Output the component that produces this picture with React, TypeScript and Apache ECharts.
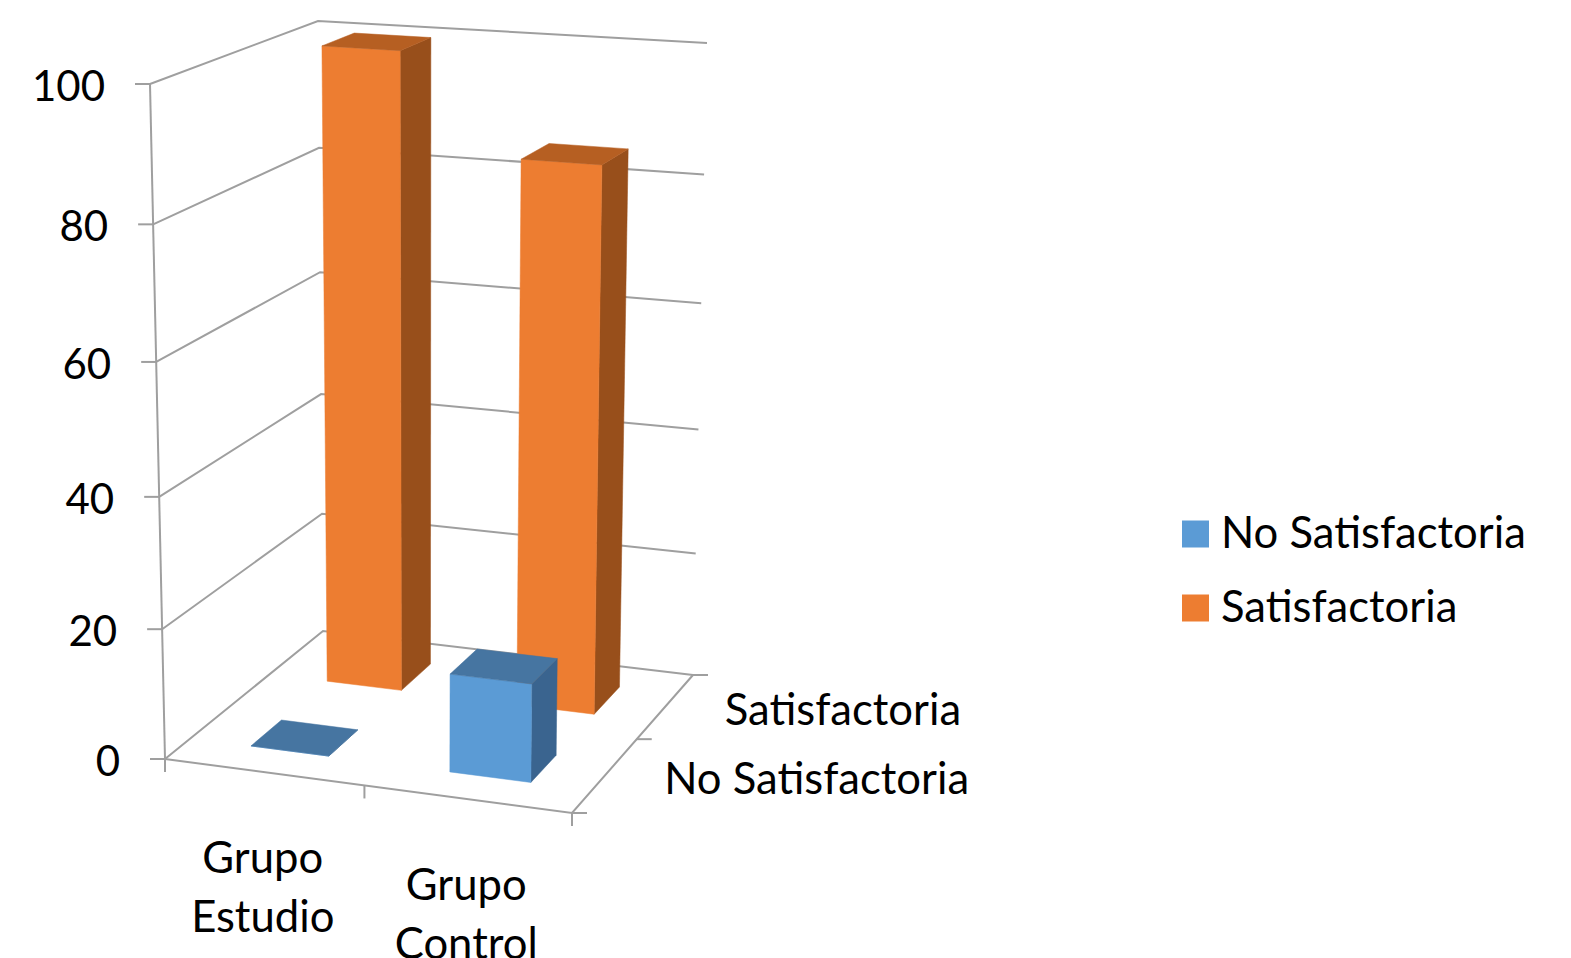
import React, { useEffect, useRef } from "react";
import * as echarts from "echarts";

const categories = ["Grupo\nEstudio", "Grupo\nControl"];
const depthNames = ["No Satisfactoria", "Satisfactoria"];
const noSatisfactoria = [0, 15];
const satisfactoria = [100, 85];
const valueTicks = [0, 20, 40, 60, 80, 100];

const W = 1571;
const H = 958;
const GRID_W = 1000;
const GRID_H = 900;
const FONT = "Lato";
const FONT_SIZE = 43.6;
const TICK_FONT_SIZE = 42;
const TEXT = "#000000";
const LINE = "#9F9F9F";

const floor = { fl: [165, 759], fr: [572, 813], bl: [323, 631], br: [693, 675] };
const roof = { fl: [150, 84], fr: [581, 114], bl: [318, 21], br: [707, 43] };
const K = 1.05;

const bil = (c: any, u: number, w: number) => [0, 1].map((i) =>
  c.fl[i] * (1 - u) * (1 - w) + c.fr[i] * u * (1 - w) + c.bl[i] * (1 - u) * w + c.br[i] * u * w);

const project = (u: number, w: number, t: number) => {
  const s = t / (t + K * (1 - t));
  const a = bil(floor, u, w);
  const b = bil(roof, u, w);
  return [a[0] + (b[0] - a[0]) * s, a[1] + (b[1] - a[1]) * s];
};

const HALF_W = 0.1;
const OFF_W = 0.0135;

const line = (pts: number[][], width = 2) => ({
  type: "polyline",
  silent: true,
  shape: { points: pts },
  style: { stroke: LINE, lineWidth: width, fill: "none" },
});

const label = (text: string, x: number, y: number, align: string, lineHeight?: number, fontSize = FONT_SIZE) => ({
  type: "text",
  silent: true,
  style: { text, x, y, align, verticalAlign: "middle", fill: TEXT, fontSize, fontFamily: FONT, lineHeight },
});

// Pixel in the hidden cartesian grid -> position in the unit box.
const toUnit = (api: any, cat: number, value: number) => {
  const p = api.coord([cat, value]);
  return [p[0] / GRID_W, 1 - p[1] / GRID_H];
};

const barSeries = (name: string, values: number[], depth: number, colors: string[]) => ({
  type: "custom",
  name,
  silent: true,
  coordinateSystem: "cartesian2d",
  itemStyle: { color: colors[0] },
  data: values.map((v, i) => [i, v]),
  renderItem: (_: any, api: any) => {
    const [uc, t] = toUnit(api, api.value(0), api.value(1));
    const wc = (depth + 0.5) / 2 + OFF_W;
    const halfU = 0.095 + 0.008 * uc;
    const offU = -0.003;
    const u0 = uc + offU - halfU;
    const u1 = uc + offU + halfU;
    const w0 = wc - HALF_W;
    const w1 = wc + HALF_W;
    const poly = (pts: number[][], fill: string) => ({
      type: "polygon",
      silent: true,
      shape: { points: pts },
      style: { fill, stroke: fill, lineWidth: 0.5 },
    });
    return {
      type: "group",
      children: [
        poly([project(u1, w0, 0), project(u1, w1, 0), project(u1, w1, t), project(u1, w0, t)], colors[1]),
        poly([project(u0, w0, 0), project(u1, w0, 0), project(u1, w0, t), project(u0, w0, t)], colors[0]),
        poly([project(u0, w0, t), project(u1, w0, t), project(u1, w1, t), project(u0, w1, t)], colors[2]),
      ],
    };
  },
});

export default function App() {
  const ref = useRef<HTMLDivElement>(null);
  useEffect(() => {
    const chart = echarts.init(ref.current!, null, { renderer: "svg" });
    chart.setOption({
      animation: false,
      backgroundColor: "#ffffff",
      grid: { left: 0, top: 0, width: GRID_W, height: GRID_H },
      xAxis: { type: "category", show: false, data: categories },
      yAxis: { type: "value", show: false, min: 0, max: 100, interval: 20 },
      legend: {
        data: depthNames,
        orient: "vertical",
        left: 1182,
        top: 509,
        padding: 0,
        itemWidth: 27,
        itemHeight: 27,
        itemGap: 24,
        icon: "rect",
        selectedMode: false,
        formatter: "{a|{name}}",
        textStyle: {
          fontFamily: FONT,
          fontSize: FONT_SIZE,
          color: TEXT,
          padding: [0, 0, 0, 7],
          rich: {
            a: { fontFamily: FONT, fontSize: FONT_SIZE, color: TEXT, lineHeight: 44, padding: [0, 0, 6, 0] },
          },
        },
      },
      series: [
        {
          type: "custom",
          name: "Paredes",
          silent: true,
          data: valueTicks.map((v) => [0, v]),
          renderItem: (_: any, api: any) => {
            const [, t] = toUnit(api, 0, api.value(1));
            const a = project(0, 0, t);
            const children: any[] = [
              line([a, project(0, 1, t), project(1, 1, t)]),
              line([[a[0] - 15, a[1]], a]),
              label(String(api.value(1)), a[0] - 45, a[1] + 1, "right", undefined, TICK_FONT_SIZE),
            ];
            if (t === 0) {
              children.push(line([project(0, 0, 0), project(0, 0, 1)]));
              children.push(line([project(0, 0, 0), project(1, 0, 0), project(1, 1, 0)]));
              [0, 0.49, 1].forEach((u) => {
                const p = project(u, 0, 0);
                children.push(line([p, [p[0], p[1] + 13]]));
              });
              [0, 0.535, 1].forEach((w) => {
                const p = project(1, w, 0);
                children.push(line([p, [p[0] + 15, p[1]]]));
              });
            }
            return { type: "group", children };
          },
        },
        {
          type: "custom",
          name: "Categorias",
          silent: true,
          data: categories.map((_, i) => [i, 0]),
          renderItem: (params: any, api: any) => {
            const [u] = toUnit(api, api.value(0), 0);
            const p = project(u, 0, 0);
            return label(categories[params.dataIndex], p[0] - 4, p[1] + 113, "center", 59);
          },
        },
        {
          type: "custom",
          name: "Profundidad",
          silent: true,
          data: depthNames.map((_, i) => [i, 0]),
          renderItem: (params: any) => {
            const p = project(1, (params.dataIndex + 0.5) / 2, 0);
            return label(depthNames[params.dataIndex], p[0] + 62, p[1] - 2, "left");
          },
        },
        barSeries("Satisfactoria", satisfactoria, 1, ["#ED7D31", "#984F1B", "#B65F22"]),
        barSeries("No Satisfactoria", noSatisfactoria, 0, ["#5B9BD5", "#3A648F", "#4675A1"]),
      ],
    });
    return () => chart.dispose();
  }, []);
  return <div ref={ref} style={{ position: "fixed", left: 0, top: 0, width: W, height: H }} />;
}
